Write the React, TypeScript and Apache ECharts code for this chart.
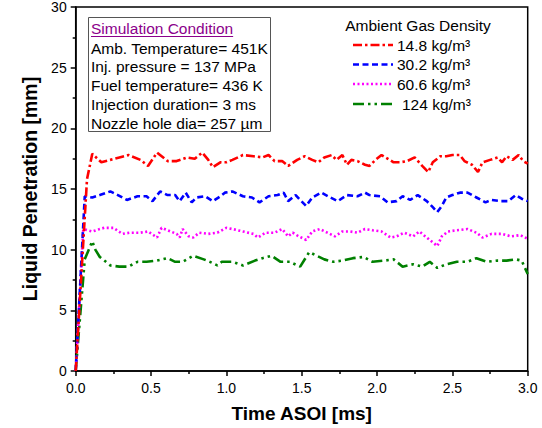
import React, { useEffect, useRef } from "react";
import * as echarts from "echarts";

// ---- data (time in ms, liquid penetration in mm) ----
const xTicks = [0, 0.5, 1.0, 1.5, 2.0, 2.5, 3.0];
const yTicks = [0, 5, 10, 15, 20, 25, 30];

const red148: [number, number][] = [
  [0, 0], [0.075, 15.8], [0.11, 17.9], [0.17, 17.2], [0.23, 17.4], [0.29, 17.6], [0.35, 17.8],
  [0.43, 17.4], [0.48, 16.9], [0.54, 18.0], [0.61, 17.3], [0.67, 17.3], [0.74, 17.6],
  [0.79, 17.5], [0.84, 18.0], [0.88, 17.4], [0.91, 16.8], [0.96, 17.2], [1.0, 17.2],
  [1.04, 17.4], [1.11, 17.8], [1.18, 17.7], [1.24, 17.6], [1.28, 17.8], [1.32, 17.3],
  [1.37, 17.3], [1.41, 16.9], [1.47, 17.4], [1.52, 17.7], [1.57, 17.4], [1.61, 17.2],
  [1.65, 17.6], [1.7, 17.8], [1.73, 17.4], [1.77, 17.8], [1.8, 17.0], [1.83, 17.4],
  [1.87, 17.3], [1.92, 17.0], [1.95, 16.9], [1.99, 17.4], [2.03, 17.8], [2.11, 17.2],
  [2.15, 17.2], [2.2, 17.3], [2.25, 17.6], [2.3, 16.9], [2.34, 16.4], [2.37, 17.2],
  [2.42, 17.7], [2.46, 17.7], [2.5, 17.8], [2.55, 17.8], [2.58, 17.3], [2.63, 17.0],
  [2.67, 16.4], [2.7, 17.2], [2.75, 17.4], [2.8, 17.6], [2.83, 17.2], [2.86, 17.7],
  [2.9, 17.4], [2.94, 17.8], [2.97, 17.3], [3.0, 17.1],
];

const blue302: [number, number][] = [
  [0, 0], [0.06, 14.4], [0.11, 14.3], [0.16, 14.5], [0.23, 14.8], [0.28, 14.5], [0.34, 14.1],
  [0.41, 14.4], [0.47, 14.4], [0.51, 14.0], [0.56, 14.8], [0.61, 14.5], [0.66, 14.5],
  [0.69, 14.0], [0.73, 14.7], [0.77, 13.9], [0.8, 14.3], [0.86, 14.4], [0.91, 14.0],
  [0.96, 14.4], [0.99, 14.7], [1.04, 14.8], [1.11, 14.4], [1.17, 14.3], [1.22, 13.9],
  [1.28, 14.4], [1.34, 14.5], [1.38, 14.7], [1.41, 14.0], [1.46, 14.5], [1.49, 14.1],
  [1.53, 13.6], [1.57, 14.3], [1.63, 14.7], [1.69, 14.3], [1.74, 14.0], [1.8, 14.5],
  [1.87, 14.4], [1.92, 14.7], [1.95, 14.5], [2.02, 14.4], [2.07, 13.9], [2.13, 14.0],
  [2.17, 14.4], [2.22, 14.1], [2.27, 14.5], [2.33, 14.0], [2.37, 13.5], [2.4, 13.1],
  [2.43, 13.6], [2.46, 14.3], [2.5, 14.5], [2.55, 14.7], [2.6, 14.7], [2.66, 14.3],
  [2.72, 13.9], [2.76, 14.1], [2.82, 14.0], [2.87, 14.0], [2.92, 14.5], [2.96, 14.2],
  [3.0, 14.0],
];

const magenta606: [number, number][] = [
  [0, 0], [0.05, 11.7], [0.11, 11.5], [0.16, 11.7], [0.19, 11.8], [0.25, 11.8], [0.31, 11.3],
  [0.36, 11.4], [0.43, 11.4], [0.48, 11.5], [0.54, 11.0], [0.57, 11.8], [0.63, 11.5],
  [0.67, 11.3], [0.69, 11.0], [0.71, 11.7], [0.75, 11.1], [0.78, 11.0], [0.82, 11.4],
  [0.88, 11.3], [0.94, 11.4], [1.0, 11.8], [1.04, 11.7], [1.11, 11.5], [1.18, 11.3],
  [1.21, 11.0], [1.26, 11.4], [1.32, 11.4], [1.37, 11.7], [1.41, 11.1], [1.44, 11.4],
  [1.48, 11.1], [1.53, 10.8], [1.57, 11.5], [1.62, 11.7], [1.67, 11.4], [1.72, 11.1],
  [1.77, 11.5], [1.82, 11.5], [1.87, 11.4], [1.92, 11.7], [1.97, 11.6], [2.03, 11.5],
  [2.09, 11.0], [2.13, 11.1], [2.18, 11.4], [2.24, 11.1], [2.28, 11.5], [2.33, 11.0],
  [2.37, 10.6], [2.4, 10.3], [2.43, 11.1], [2.47, 11.5], [2.53, 11.6], [2.6, 11.7],
  [2.66, 11.4], [2.7, 11.0], [2.76, 11.3], [2.83, 11.3], [2.89, 11.1], [2.95, 11.2],
  [3.0, 10.9],
];

const green124: [number, number][] = [
  [0, 0], [0.06, 9.2], [0.11, 10.7], [0.13, 10.0], [0.16, 9.4], [0.23, 8.7], [0.29, 8.6],
  [0.35, 8.6], [0.41, 9.0], [0.47, 9.0], [0.54, 9.1], [0.61, 9.3], [0.66, 9.0], [0.71, 9.0],
  [0.78, 9.5], [0.85, 9.2], [0.89, 9.0], [0.94, 8.7], [0.97, 9.0], [1.04, 9.0], [1.11, 8.7],
  [1.19, 9.1], [1.24, 9.3], [1.3, 9.5], [1.36, 9.0], [1.42, 9.0], [1.49, 8.6], [1.55, 9.8],
  [1.6, 9.5], [1.65, 9.2], [1.71, 9.0], [1.77, 9.1], [1.84, 9.3], [1.91, 9.4], [1.97, 9.0],
  [2.05, 9.1], [2.11, 9.2], [2.17, 8.6], [2.24, 8.8], [2.3, 8.6], [2.35, 9.0], [2.4, 8.5],
  [2.46, 8.8], [2.53, 9.0], [2.6, 9.0], [2.66, 9.3], [2.73, 9.0], [2.8, 9.1], [2.86, 9.1],
  [2.92, 9.2], [2.96, 9.1], [3.0, 8.0],
];

const seriesNames = ["14.8 kg/m³", "30.2 kg/m³", "60.6 kg/m³", "124 kg/m³"];
const conditionLines = [
  "Amb. Temperature= 451K",
  "Inj. pressure = 137 MPa",
  "Fuel temperature= 436 K",
  "Injection duration= 3 ms",
  "Nozzle hole dia= 257 µm",
];

const FONT = "'Liberation Sans', Arial, Helvetica, sans-serif";
const BOXFONT = 15.5;
const COLORS = ["#ff0000", "#0000ff", "#ff00ff", "#008000"];
const DASHES: number[][] = [
  [9, 3, 2.5, 3],
  [6, 3.5],
  [2, 2.5],
  [11, 4, 2.5, 4, 2.5, 4],
];
const LW = 2.6;

function measure(text: string, font: string): number {
  const c = document.createElement("canvas").getContext("2d");
  if (!c) return text.length * 7;
  c.font = font;
  return c.measureText(text).width;
}

export default function App() {
  const ref = useRef<HTMLDivElement>(null);
  useEffect(() => {
    if (!ref.current) return;
    const chart = echarts.init(ref.current, undefined, { renderer: "svg" });
    const datasets = [red148, blue302, magenta606, green124];

    const titleW = measure("Simulation Condition", `${BOXFONT}px ${FONT}`);

    const graphic: any[] = [];
    // condition box
    graphic.push({
      type: "rect",
      shape: { x: 88.5, y: 17.5, width: 182, height: 114 },
      style: { fill: "#fff", stroke: "#555", lineWidth: 1 },
      z: 10,
    });
    graphic.push({
      type: "text",
      x: 91,
      y: 28,
      style: { text: "Simulation Condition", fill: "#8b008b", font: `${BOXFONT}px ${FONT}`, textVerticalAlign: "middle" },
      z: 11,
    });
    graphic.push({
      type: "line",
      shape: { x1: 91, y1: 36.5, x2: 91 + titleW, y2: 36.5 },
      style: { stroke: "#8b008b", lineWidth: 1 },
      z: 11,
    });
    conditionLines.forEach((t, i) => {
      graphic.push({
        type: "text",
        x: 91,
        y: 48 + i * 18.8,
        style: { text: t, fill: "#000", font: `${BOXFONT}px ${FONT}`, textVerticalAlign: "middle" },
        z: 11,
      });
    });
    // legend
    graphic.push({
      type: "text",
      x: 418,
      y: 25,
      style: { text: "Ambient Gas Density", fill: "#000", font: `${BOXFONT}px ${FONT}`, textAlign: "center", textVerticalAlign: "middle" },
      z: 11,
    });
    const rowY = [45, 64.5, 84, 104];
    seriesNames.forEach((n, i) => {
      graphic.push({
        type: "line",
        shape: { x1: 353, y1: rowY[i], x2: 393, y2: rowY[i] },
        style: { stroke: COLORS[i], lineWidth: LW, lineDash: DASHES[i] },
        z: 11,
      });
      graphic.push({
        type: "text",
        x: i === 3 ? 402 : 397,
        y: rowY[i],
        style: { text: n, fill: "#000", font: `${BOXFONT}px ${FONT}`, textVerticalAlign: "middle" },
        z: 11,
      });
    });

    chart.setOption({
      animation: false,
      backgroundColor: "#fff",
      grid: {
        left: 75.7,
        right: 14.3,
        top: 7,
        bottom: 55.5,
        show: true,
        borderColor: "#000",
        borderWidth: 1.5,
        backgroundColor: "transparent",
      },
      xAxis: {
        type: "value",
        min: xTicks[0],
        max: xTicks[xTicks.length - 1],
        interval: 0.5,
        name: "Time ASOI [ms]",
        nameLocation: "middle",
        nameGap: 33,
        nameTextStyle: { fontFamily: FONT, fontSize: 19, fontWeight: "bold", color: "#000" },
        axisLine: { show: true, onZero: false, lineStyle: { color: "#000", width: 1.5 } },
        axisTick: { show: true, inside: false, length: 5, lineStyle: { color: "#000", width: 1.5 } },
        minorTick: { show: true, splitNumber: 2, length: 3, lineStyle: { color: "#000", width: 1.5 } },
        axisLabel: {
          fontFamily: FONT,
          fontSize: 14,
          color: "#000",
          margin: 10,
          formatter: (v: number) => v.toFixed(1),
        },
        splitLine: { show: false },
      },
      yAxis: {
        type: "value",
        min: yTicks[0],
        max: yTicks[yTicks.length - 1],
        interval: 5,
        name: "Liquid Penetration [mm]",
        nameLocation: "middle",
        nameGap: 36,
        nameTextStyle: { fontFamily: FONT, fontSize: 19.5, fontWeight: "bold", color: "#000" },
        axisLine: { show: true, onZero: false, lineStyle: { color: "#000", width: 1.5 } },
        axisTick: { show: true, inside: false, length: 5, lineStyle: { color: "#000", width: 1.5 } },
        minorTick: { show: true, splitNumber: 2, length: 3, lineStyle: { color: "#000", width: 1.5 } },
        axisLabel: { fontFamily: FONT, fontSize: 14, color: "#000", margin: 9 },
        splitLine: { show: false },
      },
      series: datasets.map((d, i) => ({
        name: seriesNames[i],
        type: "line",
        data: d,
        showSymbol: false,
        symbol: "none",
        clip: true,
        lineStyle: { color: COLORS[i], width: LW, type: DASHES[i] },
        z: 4 - i,
      })),
      graphic,
    });
    return () => chart.dispose();
  }, []);
  return <div ref={ref} style={{ width: 542, height: 428, position: "absolute", left: 0, top: 0 }} />;
}
